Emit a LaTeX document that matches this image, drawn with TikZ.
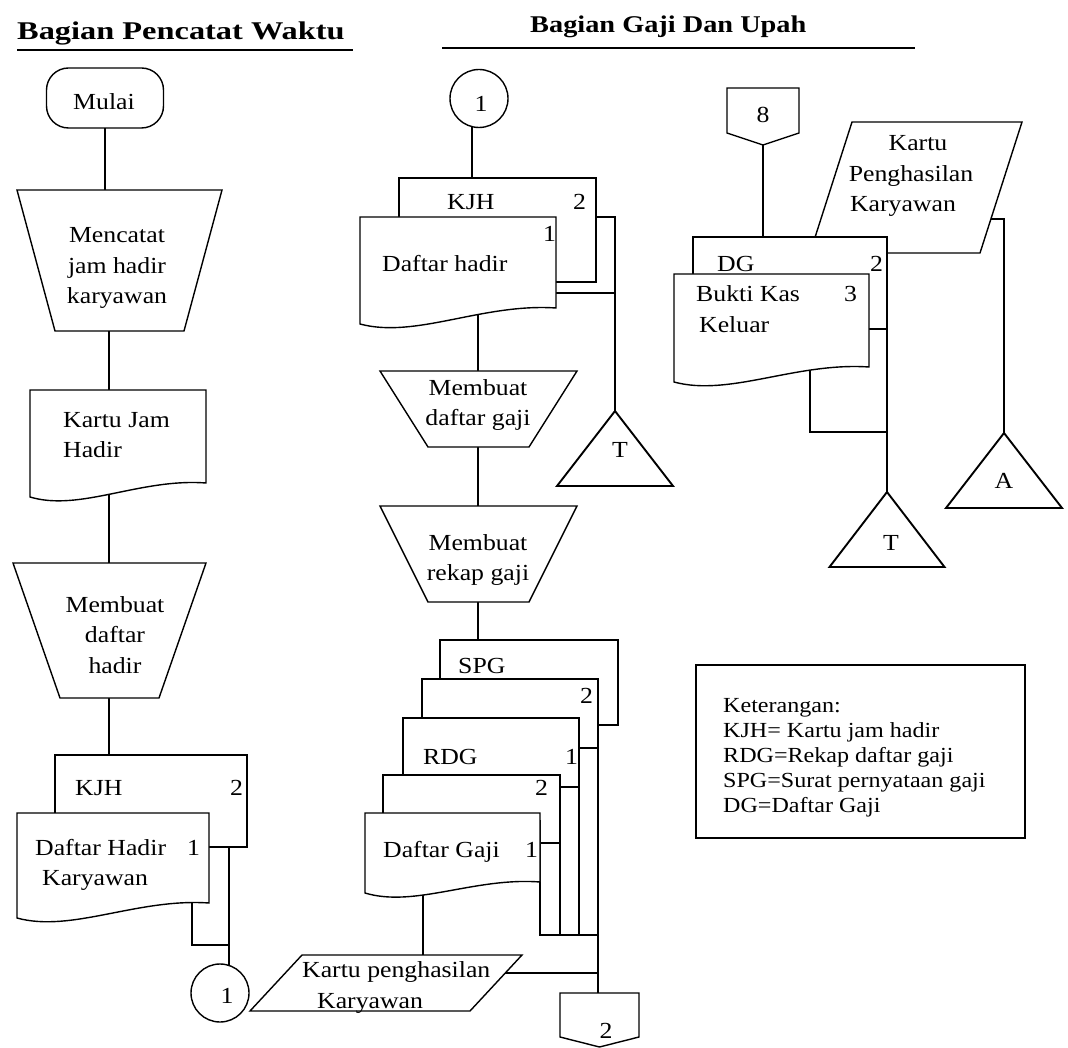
\documentclass[tikz,border=0pt]{standalone}
\usepackage{fontspec}
\setmainfont{Liberation Serif}[FakeStretch=1.12]
\newfontfamily\titleA{Liberation Serif}[FakeStretch=1.27]
\newfontfamily\titleB{Liberation Serif}[FakeStretch=1.18]
\usetikzlibrary{calc}
\newcommand{\bodyfont}{\fontsize{23}{30.5}\selectfont}
\newcommand{\legendfont}{\fontsize{21.5}{25}\selectfont}
% document symbol: flat top, wavy bottom (left end lower by #2)
\newcommand{\drawdoc}[2]{\draw[outline] (#1.south east) -- (#1.north east) -- (#1.north west) -- ($(#1.south west)+(0,#2)$) .. controls ($(#1.south west)!0.284!(#1.south east)+(0,#2+15)$) and ($(#1.south west)!0.625!(#1.south east)+(0,-5)$) .. (#1.south east) -- cycle;}
% manual operation: trapezoid narrowing downwards
\newcommand{\drawtrap}[2]{\draw[outline] (#1.north west) -- (#1.north east) -- ($(#1.south east)+(-#2,0)$) -- ($(#1.south west)+(#2,0)$) -- cycle;}
% archive triangle
\newcommand{\drawtri}[1]{\draw[tri] (#1.south west) -- (#1.north) -- (#1.south east) -- cycle;}
% off-page connector
\newcommand{\drawoff}[2]{\draw[outline] (#1.north west) -- (#1.north east) -- (#1.south east) -- ($(#1.south)+(0,#2)$) -- (#1.south west) -- cycle;}
% input/output parallelogram
\newcommand{\drawpar}[2]{\draw[outline] ($(#1.north west)+(#2,0)$) -- (#1.north east) -- ($(#1.south east)+(-#2,0)$) -- (#1.south west) -- cycle;}
% copy sheet behind another: visible left part, top, right edge to bottom
\newcommand{\drawlayer}[3]{\fill[white] (#1.north west) rectangle ($(#1.north east)+(0,#3)$);
  \draw[line width=1.4pt] ($(#1.north west)+(0,#2)$) -- (#1.north west) -- (#1.north east) -- (#1.south east);}
\begin{document}
\begin{tikzpicture}[x=1pt,y=-1pt,
  box/.style={shape=rectangle, draw=none, inner sep=0pt, outer sep=0pt},
  flow/.style={line width=1.2pt},
  outline/.style={line width=1.4pt, fill=white, line join=miter},
  tri/.style={line width=1.9pt, fill=white, line join=miter},
  lbl/.style={inner sep=0pt, anchor=base west, font=\bodyfont, align=left},
  clbl/.style={inner sep=0pt, anchor=base, font=\bodyfont, align=center},
]
\fill[white] (0,0) rectangle (1068,1048);

% ---------- geometry: left lane ----------
\node[box, minimum width=117pt, minimum height=60pt] (mulai) at (105,98) {};
\node[box, minimum width=205pt, minimum height=141pt] (catat) at (119.5,260.5) {};
\node[box, minimum width=176pt, minimum height=93pt] (kartu) at (118,436.5) {};
\node[box, minimum width=193pt, minimum height=135pt] (buatdh) at (109.5,630.5) {};
\node[box, minimum width=192pt, minimum height=92pt] (kjhA) at (151,801) {};
\node[box, minimum width=192pt, minimum height=90pt] (dhk) at (113,858) {};
\node[box, shape=circle, minimum size=58pt] (conA) at (220,993) {};
\node[box, minimum width=272pt, minimum height=56pt] (kpk) at (386,983) {};
\node[box, minimum width=79pt, minimum height=44pt] (offB) at (599.5,1015) {};

% ---------- geometry: middle lane ----------
\node[box, shape=circle, minimum size=58pt] (conB) at (479,98.5) {};
\node[box, minimum width=197pt, minimum height=104pt] (kjhB) at (497.5,230) {};
\node[box, minimum width=196pt, minimum height=91pt] (dhr) at (458,262.5) {};
\node[box, minimum width=116pt, minimum height=75pt] (arsT1) at (615,448.5) {};
\node[box, minimum width=197pt, minimum height=76pt] (buatdg) at (478.5,409) {};
\node[box, minimum width=197pt, minimum height=96pt] (buatrk) at (478.5,554) {};
\node[box, minimum width=178pt, minimum height=85pt] (spg) at (529,682.5) {};
\node[box, minimum width=176pt, minimum height=256pt] (spg2) at (510,807) {};
\node[box, minimum width=176pt, minimum height=217pt] (rdg) at (491,826.5) {};
\node[box, minimum width=177pt, minimum height=160pt] (rdg2) at (471.5,855) {};
\node[box, minimum width=175pt, minimum height=69pt] (dgj) at (452.5,847.5) {};

% ---------- geometry: right lane ----------
\node[box, minimum width=72pt, minimum height=45pt] (offA) at (763,110.5) {};
\node[box, minimum width=212pt, minimum height=131pt] (kpk2) at (916,187.5) {};
\node[box, minimum width=194pt, minimum height=43pt] (dgb) at (790,258.5) {};
\node[box, minimum width=195pt, minimum height=93pt] (bkk) at (771.5,320.5) {};
\node[box, minimum width=115pt, minimum height=75pt] (arsT2) at (887,529.5) {};
\node[box, minimum width=116pt, minimum height=75pt] (arsA) at (1004,470.5) {};
\node[box, minimum width=329pt, minimum height=173pt] (ket) at (860.5,751.5) {};

% connector columns and rows
\coordinate (colL) at (109,0);
\coordinate (colC) at (472,0);
\coordinate (colM) at (478,0);
\coordinate (colD) at (423,0);
\coordinate (jL) at (192,945);
\coordinate (jR) at (810,432);
\coordinate (rowM1) at (0,217);
\coordinate (rowM2) at (0,293);
\coordinate (rowS1) at (0,748);
\coordinate (rowS2) at (0,787);
\coordinate (rowS3) at (0,843);
\coordinate (rowK) at (0,973);
\coordinate (rowB) at (0,329);
\coordinate (rowP) at (0,219);

% ---------- connectors ----------
\draw[flow] (mulai) -- (mulai |- catat);
\draw[flow] (catat -| colL) -- (kartu -| colL);
\draw[flow] (kartu -| colL) -- (buatdh -| colL);
\draw[flow] (buatdh -| colL) -- (kjhA -| colL);
\draw[flow] (dhk -| jL) -- (jL) -- (jL -| conA.72);
\draw[flow] (kjhA -| conA.72) -- (conA.72);

\draw[flow] (conB -| colC) -- (kjhB -| colC);
\draw[flow] (kjhB.east |- rowM1) -- (arsT1.north |- rowM1) -- (arsT1.north);
\draw[flow] (dhr.east |- rowM2) -- (arsT1.north |- rowM2);
\draw[flow] (dhr -| colM) -- (buatdg -| colM) -- (buatrk -| colM) -- (spg -| colM);
\draw[flow] (dgj.east |- rowS3) -- (rdg2.east |- rowS3);
\draw[flow] (rdg2.east |- rowS2) -- (rdg.east |- rowS2);
\draw[flow] (rdg.east |- rowS1) -- (spg2.east |- rowS1);
\draw[flow] (dgj.north east) -- (dgj.east |- spg2.south) -- (spg2.south east) -- (spg2.south east |- offB.north);
\draw[flow] (dgj -| colD) -- (kpk -| colD);
\draw[flow] (kpk |- rowK) -- (spg2.east |- rowK);

\draw[flow] (offA) -- (offA |- dgb);
\draw[flow] (bkk.east |- rowB) -- (dgb.east |- rowB);
\draw[flow] (bkk -| jR) -- (jR) -- (jR -| dgb.east);
\draw[flow] (kpk2 |- rowP) -- (arsA.north |- rowP) -- (arsA.north);

% ---------- symbols ----------
\draw[outline, rounded corners=22pt] (mulai.north west) rectangle (mulai.south east);
\drawtrap{catat}{38}
\drawdoc{kartu}{14}
\drawtrap{buatdh}{47}
\draw[outline] (kjhA.north west) rectangle (kjhA.south east);
\drawdoc{dhk}{15}
\draw[outline] (conA) circle[radius=29pt];
\drawpar{kpk}{52}
\drawoff{offB}{10}

\draw[outline] (conB) circle[radius=29pt];
\draw[outline] (kjhB.north west) rectangle (kjhB.south east);
\drawdoc{dhr}{16}
\drawtri{arsT1}
\drawtrap{buatdg}{48}
\drawtrap{buatrk}{48}
\draw[outline] (spg.north west) rectangle (spg.south east);
\drawlayer{spg2}{39}{51}
\drawlayer{rdg}{57}{62}
\drawlayer{rdg2}{38}{45}
\drawdoc{dgj}{11}

\drawoff{offA}{12}
\drawpar{kpk2}{42}
\fill[white] (dgb.north west) rectangle (dgb.south east);
\draw[line width=1.4pt] ($(dgb.north west)+(0,37)$) -- (dgb.north west) -- (dgb.north east) -- (dgb.north east |- arsT2.north);
\drawdoc{bkk}{15}
\drawtri{arsT2}
\drawtri{arsA}
\draw[line width=1.4pt] (ket.north west) rectangle (ket.south east);

% ---------- headings ----------
\node[inner sep=0pt, anchor=base west, font=\titleA\bfseries\fontsize{25.5}{30}\selectfont] (judulA) at (17,40) {Bagian Pencatat Waktu};
\draw[line width=1.8pt] (17,50) -- (353,50);
\node[inner sep=0pt, anchor=base west, font=\titleB\bfseries\fontsize{24}{30}\selectfont] (judulB) at (530,33) {Bagian Gaji Dan Upah};
\draw[line width=1.8pt] (442,48) -- (915,48);

% ---------- texts: left lane (multi-line nodes sit on their last baseline) ----------
\node[clbl] (tMulai) at (104,110) {Mulai};
\node[clbl] (tCatat) at (117,304) {Mencatat\\jam hadir\\karyawan};
\node[lbl] (tKartu) at (63,457.5) {Kartu Jam\\Hadir};
\node[clbl] (tBuatdh) at (115,673) {Membuat\\daftar\\hadir};
\node[lbl] (tKjhA) at (75,795) {KJH};
\node[lbl] (nKjhA) at (230,795) {2};
\node[lbl] (tDhk) at (35,885.5) {Daftar Hadir\\\hspace*{7pt}Karyawan};
\node[lbl] (nDhk) at (187,855) {1};
\node[clbl] (tConA) at (227,1003) {1};
\node[lbl] (tKpk) at (302,1008) {Kartu penghasilan\\\hspace*{15pt}Karyawan};
\node[clbl] (tOffB) at (606,1038) {2};

% ---------- texts: middle lane ----------
\node[clbl] (tConB) at (481,112) {1};
\node[lbl] (tKjhB) at (447,210) {KJH};
\node[lbl] (nKjhB) at (573,210) {2};
\node[lbl] (tDhr) at (382,272) {Daftar hadir};
\node[lbl] (nDhr) at (543,242) {1};
\node[clbl] (tT1) at (620,457) {T};
\node[clbl] (tBuatdg) at (478,425.5) {Membuat\\daftar gaji};
\node[clbl] (tBuatrk) at (478,580.5) {Membuat\\rekap gaji};
\node[lbl] (tSpg) at (458,673) {SPG};
\node[lbl] (nSpg2) at (580,703) {2};
\node[lbl] (tRdg) at (423,764) {RDG};
\node[lbl] (nRdg) at (565,764) {1};
\node[lbl] (nRdg2) at (535,795) {2};
\node[lbl] (tDgj) at (383,857) {Daftar Gaji};
\node[lbl] (nDgj) at (525,857) {1};

% ---------- texts: right lane ----------
\node[clbl] (tOffA) at (763,123) {8};
\node[clbl] (tKpk2) at (911,212) {\hspace*{14pt}Kartu\\Penghasilan\\Karyawan\hspace*{16pt}};
\node[lbl] (tDgb) at (717,272) {DG};
\node[lbl] (nDgb) at (870,272) {2};
\node[lbl] (tBkk) at (696,332.5) {Bukti Kas\\\hspace*{3pt}Keluar};
\node[lbl] (nBkk) at (844,302) {3};
\node[clbl] (tT2) at (891,550) {T};
\node[clbl] (tA) at (1004,488) {A};
\node[lbl, font=\legendfont] (tKet) at (723,812) {Keterangan:\\KJH= Kartu jam hadir\\RDG=Rekap daftar gaji\\SPG=Surat pernyataan gaji\\DG=Daftar Gaji};
\end{tikzpicture}
\end{document}
